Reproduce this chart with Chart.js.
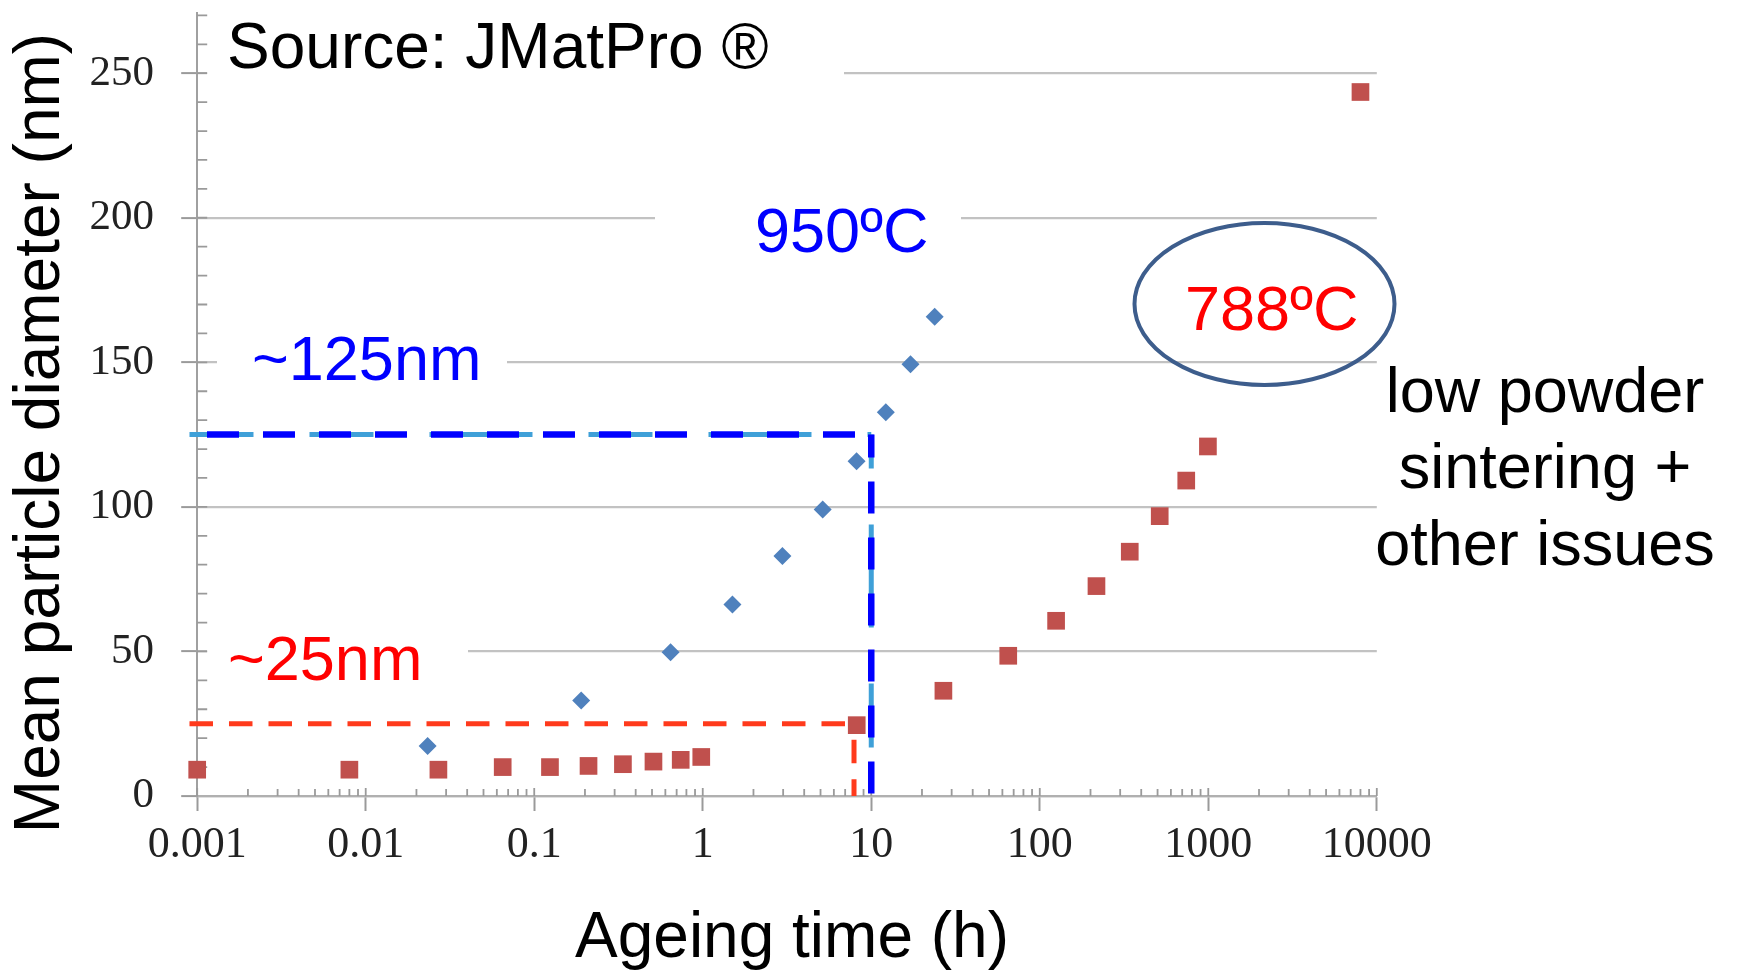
<!DOCTYPE html>
<html>
<head>
<meta charset="utf-8">
<script src="https://cdn.jsdelivr.net/npm/chart.js@4.4.1/dist/chart.umd.min.js"></script>
<style>
  html, body { margin: 0; padding: 0; background: #ffffff; }
  #wrap { width: 1737px; height: 970px; position: relative; }
</style>
</head>
<body>
<div id="wrap"><canvas id="chart" width="1737" height="970"></canvas></div>
<script>
// Mean particle diameter against ageing time (JMatPro simulation), two ageing temperatures.

// Axis ticks
const timeTicks = [0.001, 0.01, 0.1, 1, 10, 100, 1000, 10000];
const timeTickLabels = ['0.001', '0.01', '0.1', '1', '10', '100', '1000', '10000'];
const diameterTicks = [0, 50, 100, 150, 200, 250];
const diameterTickLabels = ['0', '50', '100', '150', '200', '250'];

// 950 ºC series (h, nm)
const label950 = '950ºC';
const time950 = [0.0233, 0.19, 0.644, 1.50, 2.97, 5.15, 8.18, 12.2, 17.1, 23.8];
const diam950 = [17.3, 33.0, 49.7, 66.2, 83.0, 99.1, 115.8, 132.7, 149.3, 165.8];

// 788 ºC series (h, nm)
const label788 = '788ºC';
const time788 = [0.001, 0.008, 0.027, 0.065, 0.124, 0.21, 0.336, 0.51, 0.74, 0.98,
                 8.2, 26.8, 65, 125, 217, 342, 515, 740, 995, 8000];
const diam788 = [9.1, 9.1, 9.1, 10.0, 10.0, 10.4, 11.0, 11.9, 12.5, 13.5,
                 24.5, 36.4, 48.5, 60.6, 72.6, 84.5, 96.8, 109.1, 120.9, 243.5];

// Guide lines marking the size reached after ~10 h
const guideStartTime = 0.0009;
const guide950Diameter = 125;
const guide950Time = 10;
const guide788Diameter = 25;
const guide788Time = 7.9;

const SANS = "'Liberation Sans', Arial, sans-serif";
const SERIF = "'Liberation Serif', 'Times New Roman', serif";

const pts = (xs, ys) => xs.map((x, i) => ({ x, y: ys[i] }));
const hGuide = (level, t) => [{ x: guideStartTime, y: level }, { x: t, y: level }];
const vGuide = (level, t) => [{ x: t, y: level }, { x: t, y: 0 }];

function guideSet(data, color, width, dash, offset, order) {
  return {
    data, showLine: true, borderColor: color, borderWidth: width,
    borderDash: dash, borderDashOffset: offset, pointRadius: 0,
    tension: 0, clip: false, order
  };
}

// White panels behind the annotation text, breaking the gridlines
const textPanels = [
  [207, 0, 637, 110],
  [655, 192, 306, 70],
  [217, 325, 290, 70],
  [207, 625, 261, 70]
];

const overlay = {
  id: 'overlay',
  beforeDraw(chart) {
    chart.ctx.filter = 'blur(0.6px)';
  },
  beforeDatasetsDraw(chart) {
    const { ctx, chartArea, scales } = chart;
    const xs = scales.x, ys = scales.y;
    ctx.save();
    ctx.fillStyle = '#ffffff';
    textPanels.forEach(p => ctx.fillRect(p[0], p[1], p[2], p[3]));

    // inner minor ticks, y axis every 10 nm
    ctx.strokeStyle = '#9a9a9a';
    ctx.lineWidth = 1.8;
    ctx.beginPath();
    for (let v = 10; v <= ys.max; v += 10) {
      const py = ys.getPixelForValue(v);
      ctx.moveTo(chartArea.left, py);
      ctx.lineTo(chartArea.left + 10, py);
    }
    // inner ticks on the log time axis
    for (let d = 0; d < timeTicks.length; d++) {
      const dec = timeTicks[d];
      const pMaj = xs.getPixelForValue(dec);
      ctx.moveTo(pMaj, chartArea.bottom);
      ctx.lineTo(pMaj, chartArea.bottom - 8);
      if (d === timeTicks.length - 1) break;
      for (let k = 2; k <= 9; k++) {
        const px = xs.getPixelForValue(dec * k);
        ctx.moveTo(px, chartArea.bottom);
        ctx.lineTo(px, chartArea.bottom - 7);
      }
    }
    ctx.stroke();
    ctx.restore();
  },
  afterDraw(chart) {
    const ctx = chart.ctx;
    ctx.filter = 'none';
    ctx.save();
    ctx.filter = 'none';
    ctx.textBaseline = 'alphabetic';
    ctx.textAlign = 'left';

    ctx.font = '64px ' + SANS;
    ctx.fillStyle = '#000000';
    ctx.fillText('Source: JMatPro ®', 227, 68);

    ctx.font = '63px ' + SANS;
    ctx.fillStyle = '#0000ff';
    ctx.fillText(label950, 755, 252);
    ctx.fillText('~' + guide950Diameter + 'nm', 252, 380);

    ctx.fillStyle = '#ff0000';
    ctx.fillText(label788, 1185, 330);
    ctx.fillText('~' + guide788Diameter + 'nm', 228, 680);

    // circled 788 ºC label
    ctx.beginPath();
    ctx.ellipse(1264.5, 304, 130, 81, 0, 0, Math.PI * 2);
    ctx.strokeStyle = '#3d5d8c';
    ctx.lineWidth = 4;
    ctx.stroke();

    ctx.fillStyle = '#000000';
    ctx.font = '63px ' + SANS;
    ctx.textAlign = 'center';
    ctx.fillText('low powder', 1545, 412);
    ctx.fillText('sintering +', 1545, 488);
    ctx.fillText('other issues', 1545, 565);

    // axis titles
    ctx.font = '64px ' + SANS;
    ctx.fillText('Ageing time (h)', 792, 957);
    ctx.save();
    ctx.translate(58.6, 433);
    ctx.rotate(-Math.PI / 2);
    ctx.fillText('Mean particle diameter (nm)', 0, 0);
    ctx.restore();

    ctx.restore();
  }
};

new Chart(document.getElementById('chart'), {
  type: 'scatter',
  data: {
    datasets: [
      guideSet(vGuide(guide950Diameter, guide950Time), '#0000ff', 6.5, [32, 24], 9, 1),
      guideSet(vGuide(guide950Diameter, guide950Time), '#3fa0d8', 5, [64, 56, 103, 56], 30, 2),
      guideSet(hGuide(guide950Diameter, guide950Time), '#0000ff', 6.5, [32, 24], 38.5, 1),
      guideSet(hGuide(guide950Diameter, guide950Time), '#3fa0d8', 5, [64, 56, 103, 56], 159, 2),
      guideSet(hGuide(guide788Diameter, guide788Time), '#ff3a1c', 5, [23.5, 16], 0, 1),
      guideSet(vGuide(guide788Diameter, guide788Time), '#ff3a1c', 5, [23.5, 16], 23.5, 1),
      {
        label: label788, data: pts(time788, diam788),
        pointStyle: 'rect', pointRadius: 12.5, backgroundColor: '#c0504d',
        borderWidth: 0, clip: false, order: 5
      },
      {
        label: label950, data: pts(time950, diam950),
        pointStyle: 'rectRot', pointRadius: 9, backgroundColor: '#4f81bd',
        borderWidth: 0, clip: false, order: 5
      }
    ]
  },
  options: {
    responsive: false,
    animation: false,
    devicePixelRatio: 1,
    events: [],
    layout: { padding: { left: 0, right: 360.2, top: 10, bottom: 0 } },
    plugins: { legend: { display: false }, tooltip: { enabled: false } },
    scales: {
      x: {
        type: 'logarithmic', position: 'bottom', min: 0.001, max: 10000,
        afterBuildTicks: s => { s.ticks = timeTicks.map(v => ({ value: v })); },
        afterFit: s => { s.height = 174; s.paddingLeft = 0; s.paddingRight = 0; },
        ticks: {
          callback: (v, i) => timeTickLabels[i],
          autoSkip: false, maxRotation: 0, minRotation: 0, padding: 8.5,
          color: '#222222', font: { family: SERIF, size: 44, lineHeight: 1.2 }
        },
        grid: { drawOnChartArea: false, drawTicks: true, tickLength: 15, tickColor: '#9a9a9a', tickWidth: 2 },
        border: { display: true, color: '#b0b0b0', width: 2.2 }
      },
      y: {
        type: 'linear', position: 'left', min: 0, max: 271,
        afterBuildTicks: s => { s.ticks = diameterTicks.map(v => ({ value: v })); },
        afterFit: s => { s.width = 197.2; s.paddingTop = 0; s.paddingBottom = 0; },
        ticks: {
          callback: (v, i) => diameterTickLabels[i],
          padding: 27.2, color: '#222222',
          font: { family: SERIF, size: 43, lineHeight: 1.2 }
        },
        grid: { color: '#c2c2c2', lineWidth: 2.2, drawTicks: true, tickLength: 16, tickColor: '#9a9a9a', tickWidth: 2 },
        border: { display: true, color: '#a0a0a0', width: 2 }
      }
    }
  },
  plugins: [overlay]
});
</script>
</body>
</html>
